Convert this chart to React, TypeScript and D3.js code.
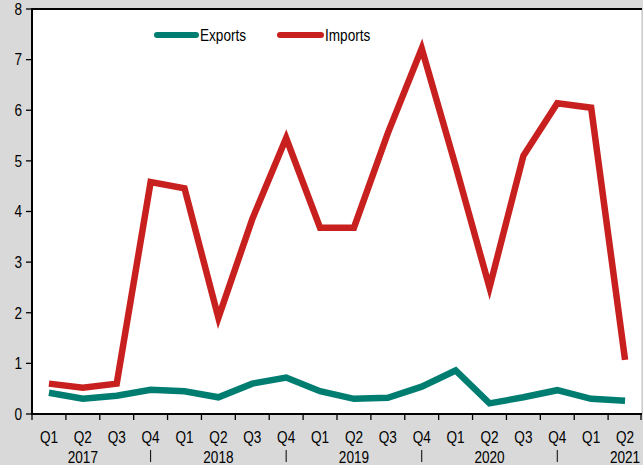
import React from "react";
import * as d3 from "d3";

const quarters = ["Q1","Q2","Q3","Q4","Q1","Q2","Q3","Q4","Q1","Q2","Q3","Q4","Q1","Q2","Q3","Q4","Q1","Q2"];
const years = ["2017","2018","2019","2020","2021"];
const yearPos = [1, 5, 9, 13, 17];
const sepPos = [3, 7, 11, 15];
const exportsData = [0.42,0.30,0.36,0.48,0.45,0.33,0.60,0.72,0.45,0.30,0.32,0.54,0.86,0.21,0.33,0.47,0.30,0.26];
const importsData = [0.60,0.52,0.60,4.58,4.46,1.90,3.85,5.45,3.68,3.68,5.55,7.22,4.90,2.50,5.10,6.14,6.05,1.07];
const yTicks = [0,1,2,3,4,5,6,7,8];

const W = 643, H = 465;
const L = 32, R = 642, T = 9, B = 414;
const FONT = "'Liberation Sans', Arial, sans-serif";
const SX = 0.85;

function Txt({ x, y, anchor, children, dy }: { x: number; y: number; anchor?: string; children: React.ReactNode; dy?: string }) {
  return (
    <text transform={`translate(${x},${y}) scale(${SX},1)`} dy={dy} textAnchor={anchor || "start"} fontSize={16} fill="#000">
      {children}
    </text>
  );
}

export default function App() {
  const idx = quarters.map((_, i) => i);
  const x = d3.scaleBand<number>().domain(idx).range([L, R]).padding(0);
  const y = d3.scaleLinear().domain([0, 8]).range([B, T]);
  const cx = (i: number) => (x(i) as number) + x.bandwidth() / 2;
  const line = d3.line<number>().x((_, i) => cx(i)).y(d => y(d));

  return (
    <svg width={W} height={H} style={{ position: "absolute", left: 0, top: 0 }} fontFamily={FONT}>
      <rect x={0} y={0} width={W} height={H} fill="#d9d9d9" />
      <rect x={L} y={T} width={R - L} height={B - T} fill="#ffffff" />
      <line x1={R} x2={R} y1={T} y2={B} stroke="#c0c0c0" strokeWidth={1} />
      <line x1={L} x2={R} y1={T} y2={T} stroke="#000" strokeWidth={2} />
      <line x1={L} x2={L} y1={T - 1} y2={B + 1} stroke="#000" strokeWidth={2} />
      <line x1={L} x2={R} y1={B} y2={B} stroke="#000" strokeWidth={2} />
      {yTicks.map(t => (
        <g key={t}>
          <line x1={L - 6} x2={L} y1={y(t)} y2={y(t)} stroke="#000" strokeWidth={1.3} />
          <Txt x={L - 10} y={y(t)} dy="0.36em" anchor="end">{t}</Txt>
        </g>
      ))}
      {idx.map(i => (
        <line key={i} x1={x(i) as number} x2={x(i) as number} y1={B} y2={B + 6} stroke="#000" strokeWidth={1.3} />
      ))}
      <line x1={R - 1} x2={R - 1} y1={B} y2={B + 6} stroke="#000" strokeWidth={1.3} />
      {quarters.map((q, i) => (
        <Txt key={i} x={cx(i)} y={443} anchor="middle">{q}</Txt>
      ))}
      {years.map((yr, k) => (
        <Txt key={yr} x={cx(yearPos[k])} y={463} anchor="middle">{yr}</Txt>
      ))}
      {sepPos.map(p => (
        <line key={p} x1={cx(p)} x2={cx(p)} y1={450} y2={462} stroke="#000" strokeWidth={1} />
      ))}
      <path d={line(importsData) || ""} fill="none" stroke="#c8201e" strokeWidth={6.5} strokeLinejoin="miter" />
      <path d={line(exportsData) || ""} fill="none" stroke="#007d71" strokeWidth={6.5} strokeLinejoin="miter" />
      <line x1={157} x2={196} y1={35} y2={35} stroke="#007d71" strokeWidth={6} strokeLinecap="round" />
      <Txt x={200} y={35} dy="0.36em">Exports</Txt>
      <line x1={280} x2={321} y1={35} y2={35} stroke="#c8201e" strokeWidth={6} strokeLinecap="round" />
      <Txt x={325} y={35} dy="0.36em">Imports</Txt>
    </svg>
  );
}
